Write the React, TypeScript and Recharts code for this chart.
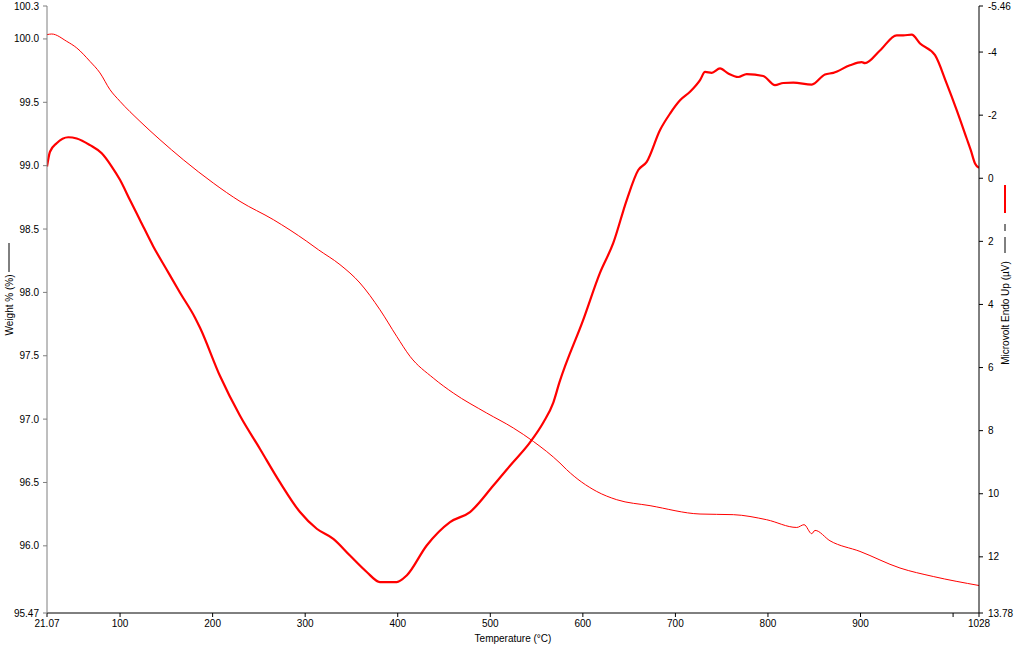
import React from 'react';
import { LineChart, Line, XAxis, YAxis } from 'recharts';

const weightTemps = [21.07, 26.1, 42.4, 53.2, 67.5, 78.3, 89.1, 99.9, 121.5, 143.1, 168.3, 200.7, 229.6, 265.6, 301.7, 314.2, 337.6, 359.2, 380.8, 398.9, 413.3, 438.4, 460.0, 496.1, 524.9, 546.5, 575.3, 582.5, 615.0, 636.6, 672.6, 726.6, 762.6, 798.6, 831.1, 839.0, 847.3, 850.8, 867.0, 899.4, 942.6, 978.6, 1028];
const weightValues = [100.034, 100.039, 99.981, 99.929, 99.823, 99.732, 99.6, 99.508, 99.35, 99.205, 99.047, 98.863, 98.718, 98.574, 98.403, 98.337, 98.219, 98.074, 97.863, 97.653, 97.495, 97.324, 97.206, 97.048, 96.93, 96.824, 96.653, 96.601, 96.429, 96.364, 96.317, 96.251, 96.246, 96.206, 96.145, 96.167, 96.096, 96.122, 96.04, 95.956, 95.825, 95.758, 95.687];

const dtaTemps = [21.07, 24.3, 31.5, 44.1, 53.2, 67.5, 80.2, 91.0, 99.9, 110.7, 121.5, 135.9, 150.4, 164.8, 181.0, 186.4, 208.0, 229.6, 251.2, 272.8, 294.4, 312.5, 330.4, 348.4, 366.5, 380.8, 398.9, 409.7, 431.3, 456.5, 478.1, 503.3, 521.3, 542.9, 557.3, 568.1, 574.6, 600.5, 618.5, 632.9, 647.4, 659.9, 669.0, 683.4, 694.2, 705.0, 715.8, 726.6, 732.0, 739.2, 748.2, 757.1, 767.9, 777.0, 794.9, 807.6, 816.6, 827.4, 847.3, 861.6, 870.6, 888.6, 901.3, 904.8, 921.0, 939.1, 946.2, 955.3, 964.3, 980.5, 993.1, 1003.9, 1014.7, 1019.1, 1023.7, 1028];
const dtaValues = [-0.37, -0.84, -1.11, -1.3, -1.26, -1.05, -0.79, -0.37, 0.05, 0.69, 1.32, 2.16, 2.9, 3.63, 4.42, 4.74, 6.27, 7.53, 8.58, 9.64, 10.58, 11.11, 11.43, 11.96, 12.48, 12.8, 12.8, 12.59, 11.64, 10.9, 10.58, 9.74, 9.11, 8.37, 7.74, 7.11, 6.48, 4.48, 3.0, 2.05, 0.69, -0.26, -0.52, -1.53, -2.05, -2.47, -2.74, -3.11, -3.37, -3.34, -3.48, -3.32, -3.21, -3.3, -3.24, -2.95, -3.02, -3.03, -2.97, -3.29, -3.34, -3.58, -3.68, -3.65, -4.05, -4.53, -4.53, -4.55, -4.27, -3.9, -3.0, -2.16, -1.26, -0.89, -0.47, -0.33];

const xTicks = [21.07, 100, 200, 300, 400, 500, 600, 700, 800, 900, 1000, 1028];
const xTickLabels = ['21.07', '100', '200', '300', '400', '500', '600', '700', '800', '900', '', '1028'];
const weightTicks = [95.47, 96.0, 96.5, 97.0, 97.5, 98.0, 98.5, 99.0, 99.5, 100.0, 100.26];
const weightTickLabels = ['95.47', '96.0', '96.5', '97.0', '97.5', '98.0', '98.5', '99.0', '99.5', '100.0', '100.3'];
const dtaTicks = [-5.46, -4, -2, 0, 2, 4, 6, 8, 10, 12, 13.78];
const dtaTickLabels = ['-5.46', '-4', '-2', '0', '2', '4', '6', '8', '10', '12', '13.78'];

const weightData = weightTemps.map((t, i) => ({ t, w: weightValues[i] }));
const dtaData = dtaTemps.map((t, i) => ({ t, d: dtaValues[i] }));

const FONT = '"Liberation Sans", Arial, sans-serif';
const RED = '#ff0000';

const labelFor = (ticks: number[], labels: string[]) => (v: number) => {
  const i = ticks.findIndex((x) => Math.abs(x - v) < 1e-6);
  return i >= 0 ? labels[i] : '';
};

const LeftTitle = () => (
  <g>
    <text x={9} y={305} transform="rotate(-90 9 305)" textAnchor="middle" dominantBaseline="central" fontSize={10} fontFamily={FONT} fill="#000">
      Weight % (%)
    </text>
    <line x1={9} y1={243} x2={9} y2={272} stroke="#000" strokeWidth={1} />
  </g>
);

const RightTitle = () => (
  <g>
    <text x={1005} y={313} transform="rotate(-90 1005 313)" textAnchor="middle" dominantBaseline="central" fontSize={10} fontFamily={FONT} fill="#000">
      Microvolt Endo Up (µV)
    </text>
    <line x1={1005} y1={237} x2={1005} y2={253} stroke="#000" strokeWidth={1} />
    <line x1={1005} y1={224} x2={1005} y2={231} stroke="#000" strokeWidth={1} />
    <line x1={1005} y1={185} x2={1005} y2={213} stroke={RED} strokeWidth={2} />
  </g>
);

export default function App() {
  return (
    <div style={{ position: 'absolute', left: 0, top: 0, background: '#fff' }}>
      <LineChart width={1024} height={646} margin={{ top: 6, right: 0, bottom: 0, left: 0 }}>
        <XAxis
          type="number"
          dataKey="t"
          domain={[21.07, 1028]}
          ticks={xTicks}
          interval={0}
          tickFormatter={labelFor(xTicks, xTickLabels)}
          height={33}
          tickSize={4}
          tickMargin={3}
          stroke="#000"
          tick={{ fontSize: 10, fontFamily: FONT, fill: '#000' }}
          allowDataOverflow
          label={{ value: 'Temperature (°C)', position: 'insideBottom', offset: 4, fontSize: 10, fontFamily: FONT, fill: '#000' }}
        />
        <YAxis
          yAxisId="w"
          orientation="left"
          type="number"
          domain={[95.47, 100.26]}
          ticks={weightTicks}
          interval={0}
          tickFormatter={labelFor(weightTicks, weightTickLabels)}
          width={47}
          tickSize={4}
          tickMargin={4}
          stroke="#7f7f7f"
          tick={{ fontSize: 10, fontFamily: FONT, fill: '#000' }}
          allowDataOverflow
          label={{ content: () => <LeftTitle /> }}
        />
        <YAxis
          yAxisId="d"
          orientation="right"
          type="number"
          reversed
          domain={[-5.46, 13.78]}
          ticks={dtaTicks}
          interval={0}
          tickFormatter={labelFor(dtaTicks, dtaTickLabels)}
          width={45}
          tickSize={4}
          tickMargin={5}
          stroke="#000"
          tick={{ fontSize: 10, fontFamily: FONT, fill: '#000' }}
          allowDataOverflow
          label={{ content: () => <RightTitle /> }}
        />
        <Line
          yAxisId="w"
          data={weightData}
          dataKey="w"
          type="monotone"
          stroke={RED}
          strokeWidth={1}
          dot={false}
          isAnimationActive={false}
        />
        <Line
          yAxisId="d"
          data={dtaData}
          dataKey="d"
          type="monotone"
          stroke={RED}
          strokeWidth={2.2}
          dot={false}
          isAnimationActive={false}
        />
      </LineChart>
    </div>
  );
}
